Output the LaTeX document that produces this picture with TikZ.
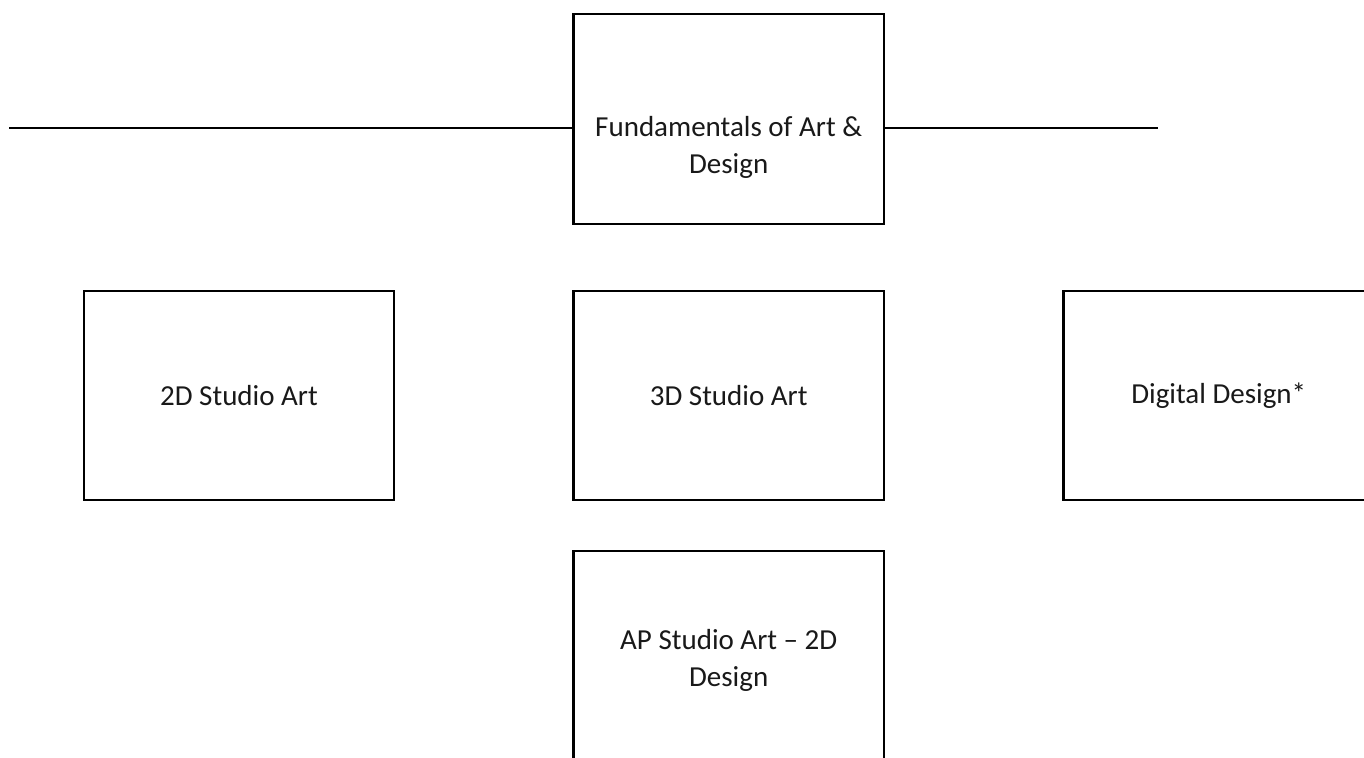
\documentclass[tikz,border=0pt]{standalone}
\usepackage{fontspec}
\setmainfont{Carlito}
\usetikzlibrary{calc}
\tikzset{
  box/.style={draw=black, line width=2.3pt, minimum width=310.5pt, minimum height=209pt, inner sep=0pt, align=center, font=\fontsize{29}{36}\selectfont, text=black!90},
  lbl/.style={align=center, font=\fontsize{29}{37}\selectfont, text=black!90, inner sep=0pt},
  conn/.style={draw=black, line width=2.3pt}
}
\begin{document}
\begin{tikzpicture}[x=1pt,y=1pt]
\useasboundingbox (0,0) rectangle (1364,-757);
\clip (0,0) rectangle (1364,-757);
\fill[white] (0,0) rectangle (1364,-757);
\node[box, minimum height=210pt] (fund) at (728.7,-119) {};
\node[lbl] (fundtxt) at ($(fund.center)+(0,-28)$) {Fundamentals of Art \&\\Design};
\node[box] (twod) at (239,-395.5) {2D Studio Art};
\node[box] (threed) at (728.7,-395.5) {3D Studio Art};
\node[box] (digital) at (1218.75,-395.5) {Digital Design*};
\node[box] (ap) at (728.7,-655.5) {};
\node[lbl] (aptxt) at ($(ap.center)+(0,-5)$) {AP Studio Art -- 2D\\Design};
\coordinate (lend) at (9,-128);
\coordinate (rend) at (1158,-128);
\draw[conn] (lend) -- (lend -| fund.west);
\draw[conn] (lend -| fund.east) -- (rend);
\end{tikzpicture}
\end{document}
